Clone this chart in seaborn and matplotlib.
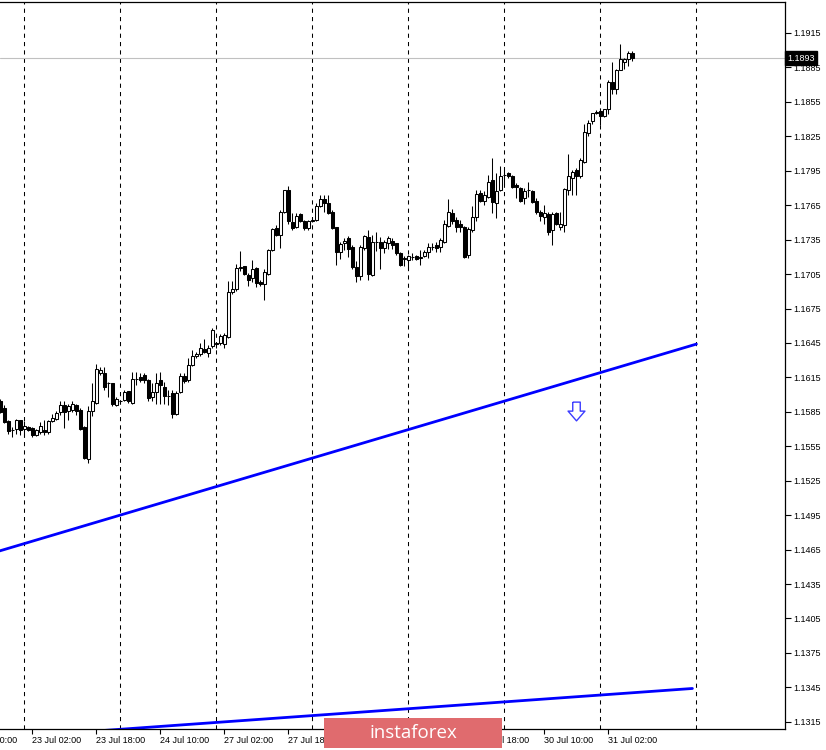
import numpy as np
import pandas as pd
import matplotlib
matplotlib.use("Agg")
import matplotlib.pyplot as plt
import seaborn as sns
from matplotlib.patches import Rectangle

# EURUSD H1 bars, 22 Jul 18:00 .. 31 Jul 08:00 (weekend skipped)
opens = [
    1.1594, 1.1588, 1.1577, 1.1569, 1.1570, 1.1578, 1.1570, 1.1572, 1.1571, 1.1565,
    1.1567, 1.1569, 1.1567, 1.1577, 1.1579, 1.1585, 1.1591, 1.1586, 1.1587, 1.1591,
    1.1587, 1.1572, 1.1544, 1.1586, 1.1593, 1.1619, 1.1619, 1.1610, 1.1610, 1.1591,
    1.1594, 1.1595, 1.1603, 1.1593, 1.1614, 1.1615, 1.1617, 1.1613, 1.1598, 1.1602,
    1.1613, 1.1607, 1.1599, 1.1601, 1.1583, 1.1602, 1.1616, 1.1613, 1.1626, 1.1634,
    1.1635, 1.1640, 1.1636, 1.1642, 1.1645, 1.1645, 1.1644, 1.1650, 1.1689, 1.1692,
    1.1710, 1.1712, 1.1704, 1.1702, 1.1710, 1.1698, 1.1696, 1.1705, 1.1726, 1.1745,
    1.1739, 1.1759, 1.1778, 1.1750, 1.1746, 1.1757, 1.1751, 1.1745, 1.1751, 1.1752,
    1.1764, 1.1770, 1.1767, 1.1759, 1.1746, 1.1724, 1.1732, 1.1736, 1.1729, 1.1711,
    1.1703, 1.1728, 1.1737, 1.1704, 1.1733, 1.1733, 1.1728, 1.1732, 1.1734, 1.1732,
    1.1723, 1.1718, 1.1717, 1.1720, 1.1721, 1.1719, 1.1721, 1.1724, 1.1729, 1.1730,
    1.1729, 1.1733, 1.1747, 1.1758, 1.1752, 1.1749, 1.1746, 1.1722, 1.1743, 1.1755,
    1.1776, 1.1769, 1.1772, 1.1787, 1.1767, 1.1778, 1.1791, 1.1793, 1.1790, 1.1783,
    1.1780, 1.1771, 1.1778, 1.1777, 1.1769, 1.1759, 1.1755, 1.1757, 1.1743, 1.1758,
    1.1746, 1.1748, 1.1778, 1.1789, 1.1796, 1.1790, 1.1803, 1.1828, 1.1838, 1.1845,
    1.1847, 1.1843, 1.1849, 1.1872, 1.1866, 1.1883, 1.1890, 1.1892, 1.1898,
]
highs = [
    1.1596, 1.1591, 1.1578, 1.1572, 1.1579, 1.1578, 1.1577, 1.1573, 1.1572, 1.1570,
    1.1576, 1.1578, 1.1578, 1.1583, 1.1586, 1.1594, 1.1594, 1.1592, 1.1594, 1.1592,
    1.1588, 1.1573, 1.1590, 1.1610, 1.1627, 1.1624, 1.1624, 1.1611, 1.1610, 1.1598,
    1.1595, 1.1604, 1.1603, 1.1620, 1.1620, 1.1619, 1.1619, 1.1614, 1.1610, 1.1619,
    1.1620, 1.1611, 1.1604, 1.1604, 1.1603, 1.1619, 1.1619, 1.1632, 1.1639, 1.1637,
    1.1645, 1.1648, 1.1643, 1.1658, 1.1646, 1.1653, 1.1654, 1.1699, 1.1699, 1.1714,
    1.1725, 1.1712, 1.1706, 1.1717, 1.1711, 1.1700, 1.1709, 1.1727, 1.1745, 1.1748,
    1.1761, 1.1778, 1.1782, 1.1758, 1.1758, 1.1758, 1.1752, 1.1752, 1.1754, 1.1767,
    1.1774, 1.1774, 1.1774, 1.1761, 1.1746, 1.1733, 1.1736, 1.1738, 1.1730, 1.1716,
    1.1730, 1.1739, 1.1743, 1.1739, 1.1742, 1.1737, 1.1735, 1.1738, 1.1736, 1.1732,
    1.1724, 1.1721, 1.1722, 1.1723, 1.1722, 1.1726, 1.1726, 1.1732, 1.1732, 1.1733,
    1.1736, 1.1752, 1.1770, 1.1762, 1.1755, 1.1752, 1.1747, 1.1746, 1.1764, 1.1778,
    1.1778, 1.1777, 1.1791, 1.1806, 1.1793, 1.1799, 1.1796, 1.1794, 1.1791, 1.1784,
    1.1781, 1.1780, 1.1785, 1.1778, 1.1771, 1.1761, 1.1765, 1.1759, 1.1759, 1.1759,
    1.1759, 1.1780, 1.1810, 1.1796, 1.1797, 1.1806, 1.1836, 1.1839, 1.1845, 1.1848,
    1.1850, 1.1849, 1.1874, 1.1890, 1.1884, 1.1905, 1.1893, 1.1899, 1.1899,
]
lows = [
    1.1584, 1.1575, 1.1566, 1.1563, 1.1566, 1.1565, 1.1563, 1.1568, 1.1563, 1.1564,
    1.1566, 1.1565, 1.1566, 1.1576, 1.1578, 1.1582, 1.1571, 1.1578, 1.1585, 1.1582,
    1.1569, 1.1544, 1.1540, 1.1581, 1.1592, 1.1617, 1.1604, 1.1598, 1.1590, 1.1590,
    1.1592, 1.1594, 1.1593, 1.1592, 1.1608, 1.1611, 1.1610, 1.1594, 1.1594, 1.1592,
    1.1592, 1.1592, 1.1591, 1.1580, 1.1582, 1.1601, 1.1610, 1.1611, 1.1625, 1.1632,
    1.1634, 1.1636, 1.1633, 1.1641, 1.1641, 1.1643, 1.1641, 1.1649, 1.1688, 1.1690,
    1.1708, 1.1704, 1.1695, 1.1698, 1.1694, 1.1695, 1.1682, 1.1704, 1.1725, 1.1738,
    1.1728, 1.1758, 1.1749, 1.1743, 1.1745, 1.1750, 1.1743, 1.1743, 1.1750, 1.1751,
    1.1763, 1.1759, 1.1757, 1.1744, 1.1713, 1.1718, 1.1726, 1.1720, 1.1709, 1.1698,
    1.1700, 1.1726, 1.1700, 1.1703, 1.1725, 1.1709, 1.1723, 1.1727, 1.1727, 1.1722,
    1.1712, 1.1712, 1.1709, 1.1717, 1.1717, 1.1713, 1.1720, 1.1719, 1.1726, 1.1724,
    1.1724, 1.1732, 1.1746, 1.1749, 1.1742, 1.1742, 1.1719, 1.1719, 1.1742, 1.1751,
    1.1768, 1.1765, 1.1771, 1.1758, 1.1754, 1.1777, 1.1783, 1.1789, 1.1780, 1.1771,
    1.1768, 1.1766, 1.1772, 1.1767, 1.1757, 1.1751, 1.1749, 1.1739, 1.1730, 1.1748,
    1.1743, 1.1742, 1.1774, 1.1774, 1.1774, 1.1789, 1.1802, 1.1825, 1.1836, 1.1844,
    1.1835, 1.1842, 1.1844, 1.1862, 1.1862, 1.1883, 1.1884, 1.1886, 1.1891,
]
closes = [
    1.1585, 1.1576, 1.1568, 1.1569, 1.1578, 1.1569, 1.1573, 1.1569, 1.1565, 1.1569,
    1.1573, 1.1567, 1.1577, 1.1580, 1.1584, 1.1591, 1.1585, 1.1590, 1.1592, 1.1586,
    1.1570, 1.1545, 1.1586, 1.1594, 1.1622, 1.1621, 1.1607, 1.1610, 1.1592, 1.1596,
    1.1594, 1.1602, 1.1594, 1.1614, 1.1614, 1.1613, 1.1613, 1.1597, 1.1602, 1.1610,
    1.1608, 1.1599, 1.1599, 1.1583, 1.1601, 1.1616, 1.1612, 1.1626, 1.1634, 1.1635,
    1.1641, 1.1637, 1.1641, 1.1656, 1.1644, 1.1651, 1.1652, 1.1689, 1.1692, 1.1710,
    1.1711, 1.1705, 1.1700, 1.1709, 1.1697, 1.1696, 1.1707, 1.1726, 1.1744, 1.1739,
    1.1759, 1.1778, 1.1751, 1.1745, 1.1756, 1.1751, 1.1745, 1.1751, 1.1752, 1.1764,
    1.1770, 1.1767, 1.1758, 1.1745, 1.1724, 1.1731, 1.1734, 1.1727, 1.1711, 1.1703,
    1.1729, 1.1738, 1.1705, 1.1733, 1.1733, 1.1728, 1.1733, 1.1736, 1.1730, 1.1723,
    1.1713, 1.1719, 1.1721, 1.1720, 1.1718, 1.1720, 1.1724, 1.1729, 1.1729, 1.1728,
    1.1735, 1.1749, 1.1759, 1.1751, 1.1746, 1.1746, 1.1720, 1.1744, 1.1755, 1.1775,
    1.1769, 1.1774, 1.1785, 1.1768, 1.1777, 1.1790, 1.1791, 1.1790, 1.1781, 1.1781,
    1.1769, 1.1777, 1.1778, 1.1768, 1.1759, 1.1756, 1.1758, 1.1742, 1.1757, 1.1749,
    1.1749, 1.1779, 1.1790, 1.1794, 1.1790, 1.1804, 1.1829, 1.1837, 1.1845, 1.1846,
    1.1843, 1.1849, 1.1872, 1.1866, 1.1883, 1.1892, 1.1892, 1.1898, 1.1893,
]

# time axis (bar index -> label); 28 Jul 10:00 and 29 Jul 02:00 sit under the watermark
first_label_bar = -8
first_label = "22 Jul 10:00"
tick_bars = [8, 24, 40, 56, 72, 120, 136, 152]
tick_labels = ["23 Jul 02:00", "23 Jul 18:00", "24 Jul 10:00", "27 Jul 02:00",
               "27 Jul 18:00", "29 Jul 18:00", "30 Jul 10:00", "31 Jul 02:00"]
day_bars = [6, 30, 54, 78, 102, 126, 150, 174]
price_ticks = [1.1315, 1.1345, 1.1375, 1.1405, 1.1435, 1.1465, 1.1495, 1.1525,
               1.1555, 1.1585, 1.1615, 1.1645, 1.1675, 1.1705, 1.1735, 1.1765,
               1.1795, 1.1825, 1.1855, 1.1885, 1.1915]

# trend lines
upper_line_bars = [-1, 174]
upper_line_prices = [1.1463, 1.1644]
lower_line_bars = [0, 173]
lower_line_prices = [1.1301, 1.1344]

arrow_bar = 144
arrow_price = 1.1586
last_price = 1.1893

df = pd.DataFrame({"open": opens, "high": highs, "low": lows, "close": closes})
df["bar"] = np.arange(len(df))
df["bull"] = df["close"] >= df["open"]

sns.set_theme(style="white")
plt.rcParams['font.family'] = ['Liberation Sans', 'DejaVu Sans']

fig = plt.figure(figsize=(8.26, 7.5), dpi=100)
ax = fig.add_axes([0, 21 / 750, 785 / 826, 727 / 750])

# day separators
for b in day_bars:
    ax.axvline(b, color='black', lw=0.75, ls=(0, (4, 4)), zorder=1)

# current price line
ax.axhline(last_price, color='#c0c0c0', lw=0.8, zorder=1.5)

# trend lines
sns.lineplot(x=upper_line_bars, y=upper_line_prices, ax=ax, color='#0000ff', linewidth=2, zorder=2)
sns.lineplot(x=lower_line_bars, y=lower_line_prices, ax=ax, color='#0000ff', linewidth=2, zorder=2)

# candles
ax.vlines(df["bar"], df["low"], df["high"], color='black', lw=0.75, zorder=3)
ax.bar(df["bar"], (df["close"] - df["open"]).abs(),
       bottom=df[["open", "close"]].min(axis=1), width=0.62,
       color=np.where(df["bull"], 'white', 'black'),
       edgecolor='black', linewidth=0.75, zorder=4)

# hollow down arrow
arrow_shape = [(-0.2, 0.5), (0.2, 0.5), (0.2, 0.02), (0.45, 0.02),
               (0.0, -0.5), (-0.45, 0.02), (-0.2, 0.02), (-0.2, 0.5)]
ax.plot([arrow_bar], [arrow_price], marker=arrow_shape, ms=13.5,
        mfc='white', mec='#3b3bff', mew=1.0, ls='none', zorder=5)

# axes frame
ax.spines['left'].set_visible(False)
for s in ['right', 'bottom', 'top']:
    ax.spines[s].set_color('black')
    ax.spines[s].set_linewidth(0.9)

ax.yaxis.tick_right()
ax.set_yticks(price_ticks)
ax.set_yticklabels([f"{p:.4f}" for p in price_ticks])
ax.tick_params(axis='y', right=True, left=False, direction='out', length=4,
               width=0.8, labelsize=6.5, pad=2, colors='black')

ax.set_xticks(tick_bars)
ax.set_xticklabels(tick_labels, ha='left')
ax.tick_params(axis='x', bottom=True, direction='out', length=3.5, width=0.8,
               labelsize=6.5, pad=1.5, colors='black')
ax.set_xlabel('')
ax.set_ylabel('')

# limits last, so the ticks do not widen them
ax.set_xlim(-0.1, 196.15)
ax.set_ylim(1.13087, 1.19420)

# label of the bar left of the view, cut by the image edge
ax.annotate(first_label, xy=(first_label_bar, 0), xycoords=('data', 'axes fraction'),
            xytext=(0, -5), textcoords='offset points', ha='left', va='top',
            fontsize=6.5, color='black', annotation_clip=False)

# last price marker on the scale
ax.text(1.0 + 2 / 785, last_price, f"{last_price:.4f}", transform=ax.get_yaxis_transform(),
        ha='left', va='center', fontsize=6.5, color='white', zorder=6,
        bbox=dict(boxstyle='square,pad=0.25', facecolor='black', edgecolor='black'))

# watermark
fig.patches.append(Rectangle((324 / 826, 2 / 750), 178 / 826, 30 / 750,
                             transform=fig.transFigure, facecolor='#e06b6e',
                             edgecolor='none', zorder=10))
fig.text(413 / 826, 17 / 750, "instaforex", color='white', fontsize=13.5,
         ha='center', va='center', zorder=11, family=['Open Sans', 'DejaVu Sans'])

plt.savefig('out.png', dpi=100)
